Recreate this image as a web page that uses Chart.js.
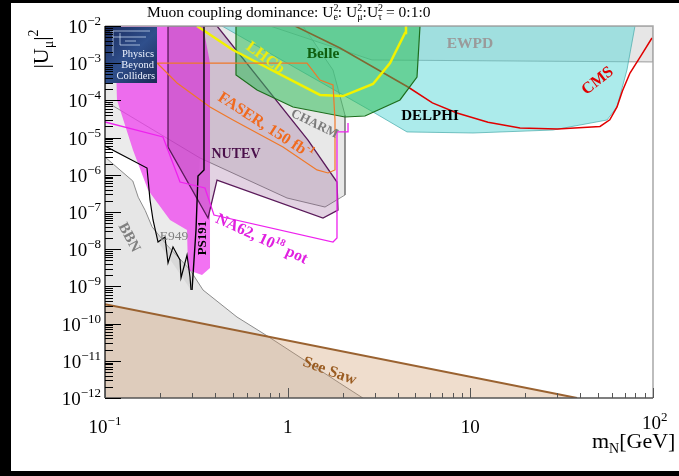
<!DOCTYPE html>
<html>
<head>
<meta charset="utf-8">
<script src="https://cdn.jsdelivr.net/npm/chart.js@4.4.1/dist/chart.umd.min.js"></script>
<style>
  html, body { margin: 0; padding: 0; background: #000; }
  canvas { display: block; }
</style>
</head>
<body>
<canvas id="plot" width="679" height="476"></canvas>
<script>
// Heavy neutral lepton mass m_N [GeV] vs. muon mixing |U_mu|^2
const massTicks = [0.1, 1, 10, 100];
const massTickLabels = [['10', '−1'], ['1', ''], ['10', ''], ['10', '2']];
const couplingTicks = [1e-2, 1e-3, 1e-4, 1e-5, 1e-6, 1e-7, 1e-8, 1e-9, 1e-10, 1e-11, 1e-12];
const couplingTickExps = ['−2', '−3', '−4', '−5', '−6', '−7', '−8', '−9', '−10', '−11', '−12'];

// [mass GeV, |U|^2]
const seeSawBound = [[0.1, 3.3e-10], [38.4, 1e-12]];
const bbnBound = [[0.1, 3.0e-6], [0.142, 6.8e-7], [0.152, 2.5e-7], [0.166, 1.1e-7], [0.181, 4.0e-8],
  [0.218, 1.3e-8], [0.292, 2.8e-9], [0.344, 8e-10], [0.528, 1.5e-10], [0.771, 4.7e-11],
  [1.93, 2.5e-12], [2.58, 1e-12]];
const charmRegion = [[0.1, 1e-2], [1.213, 1e-2], [1.771, 6.56e-4], [2.06, 4.05e-5], [2.06, 2.86e-7],
  [1.601, 1.36e-7], [0.9916, 2.38e-7], [0.3311, 2.83e-6], [0.1, 9.6e-5], [0.1, 1e-2]];
const e949Region = [[0.1, 5.94e-6], [0.1698, 1.52e-6], [0.1764, 2.1e-7], [0.1832, 6.1e-8], [0.1951, 1.56e-8],
  [0.2957, 8.0e-10], [0.3311, 2.83e-6], [0.1, 9.6e-5], [0.1, 5.94e-6]];
const ewpdRegion = [[0.8004, 1e-2], [2.895, 1.22e-3], [100, 1.08e-3], [100, 1e-2], [0.8004, 1e-2]];
const delphiRegion = [[0.437, 1e-2], [79.7, 1e-2], [72.0, 6.56e-4], [63.5, 6.65e-5], [56.0, 2.97e-5],
  [28.35, 1.6e-5], [10.34, 1.33e-5], [4.5, 1.42e-5], [2.932, 4.88e-5], [0.437, 1e-2]];
const belleRegion = [[0.5213, 1e-2], [0.5213, 4.82e-4], [0.6797, 1.9e-4], [1.0695, 6.65e-5],
  [2.06, 3.58e-5], [2.65, 3.81e-5], [4.121, 1.03e-4], [5.105, 4.26e-4], [5.302, 1e-2], [0.5213, 1e-2]];
const lhcbCurve = [[0.3189, 1e-2], [0.5021, 2.26e-3], [1.503, 1.4e-4], [2.009, 1.31e-4],
  [2.932, 2.76e-4], [3.634, 1.01e-3], [4.389, 6.5e-3], [4.444, 1e-2]];
const cmsCurve = [[1.0967, 1e-2], [1.934, 2.56e-3], [4.557, 2.29e-4], [6.2, 8.6e-5], [8.45, 4.58e-5],
  [12.5, 2.6e-5], [18.71, 1.81e-5], [30.0, 1.7e-5], [51.28, 2.0e-5], [58.0, 3.0e-5],
  [63.53, 6.65e-5], [68.0, 1.8e-4], [74.82, 5.45e-4], [86.0, 1.6e-3], [98.7, 4.76e-3]];
const faserCurve = [[0.1, 1.01e-3], [1.276, 1.01e-3], [1.503, 3.53e-4], [1.771, 2.6e-4], [1.816, 2.97e-5],
  [1.816, 1.35e-6], [1.663, 1.12e-6], [1.447, 1.35e-6], [0.9428, 5.6e-6], [0.5021, 2.97e-5],
  [0.3757, 6.65e-5], [0.2479, 2.94e-4], [0.1927, 1.01e-3]];
const magentaRegion = [[0.1134, 1e-2], [0.3439, 1e-2], [0.3757, 1.01e-3], [0.3757, 3.12e-9],
  [0.3396, 2.02e-9], [0.2848, 2.76e-9], [0.2812, 3.28e-8], [0.227, 6.1e-8], [0.172, 3.9e-7],
  [0.1423, 4.64e-6], [0.1163, 1.03e-4], [0.1134, 1e-2]];
const nutevRegion = [[0.2213, 1e-2], [0.4104, 1e-2], [1.292, 8.6e-6], [1.862, 6.4e-7], [1.886, 1.13e-7],
  [1.561, 6.9e-8], [0.4104, 7.2e-7], [0.3664, 6.9e-8], [0.2213, 5.6e-6], [0.2213, 1e-2]];
const ps191Curve = [[0.3483, 1e-2], [0.3483, 1.35e-6], [0.3229, 9.3e-7], [0.3149, 3.28e-8], [0.2995, 8.0e-10]];
const e949Curve = [[0.1, 5.94e-6], [0.1698, 1.52e-6], [0.1764, 2.1e-7], [0.1832, 6.1e-8], [0.1951, 1.56e-8],
  [0.213, 2.13e-8], [0.2213, 4.26e-9], [0.2357, 1.15e-8], [0.2574, 5.13e-9], [0.2607, 1.68e-9],
  [0.2812, 6.98e-9], [0.292, 1.79e-9], [0.2957, 8.0e-10]];
const na62Curve = [[0.1, 2.63e-5], [0.2077, 1.04e-5], [0.2574, 6.4e-7], [0.3526, 4.42e-7], [0.395, 8.3e-8],
  [1.771, 1.56e-8], [1.862, 2.0e-8], [1.862, 1.42e-5], [2.14, 1.42e-5], [2.14, 2.47e-5]];

const FONT = '"Liberation Serif", "Times New Roman", serif';
const pts = arr => arr.map(([x, y]) => ({ x, y }));

// painter's order: first entry is drawn at the bottom
const layers = [
  { data: bbnBound, fill: 'start', backgroundColor: '#e6e6e6', borderColor: '#8c8c8c', borderWidth: 1 },
  { data: e949Region, fill: 'shape', backgroundColor: 'rgba(190,190,190,0.3)', borderColor: 'rgba(0,0,0,0)', borderWidth: 0 },
  { data: charmRegion, fill: 'shape', backgroundColor: 'rgba(190,190,190,0.35)', borderColor: 'rgba(120,120,120,0.8)', borderWidth: 1 },
  { data: ewpdRegion, fill: 'shape', backgroundColor: 'rgba(200,200,200,0.45)', borderColor: 'rgba(120,120,120,0.7)', borderWidth: 1 },
  { data: seeSawBound, fill: 'start', backgroundColor: 'rgba(205,150,100,0.32)', borderColor: '#9a6230', borderWidth: 2 },
  { data: delphiRegion, fill: 'shape', backgroundColor: 'rgba(90,215,215,0.5)', borderColor: 'rgba(70,170,170,0.7)', borderWidth: 1 },
  { data: cmsCurve, fill: false, borderColor: '#e00000', borderWidth: 1.5 },
  { data: magentaRegion, fill: 'shape', backgroundColor: 'rgba(238,60,238,0.72)', borderColor: 'rgba(0,0,0,0)', borderWidth: 0 },
  { data: nutevRegion, fill: 'shape', backgroundColor: 'rgba(110,30,110,0.2)', borderColor: '#5a1a5a', borderWidth: 1.3 },
  { data: belleRegion, fill: 'shape', backgroundColor: 'rgba(50,190,90,0.55)', borderColor: '#1e6e1e', borderWidth: 1.2 },
  { data: lhcbCurve, fill: false, borderColor: '#f2f200', borderWidth: 2.5 },
  { data: faserCurve, fill: false, borderColor: '#f07828', borderWidth: 1.2 },
  { data: e949Curve, fill: false, borderColor: '#000', borderWidth: 1.2 },
  { data: ps191Curve, fill: false, borderColor: '#000', borderWidth: 1.4 },
  { data: na62Curve, fill: false, borderColor: '#ee22ee', borderWidth: 1.3 }
];
const datasets = layers.map((l, i) => Object.assign({}, l, {
  data: pts(l.data), showLine: true, pointRadius: 0, tension: 0, order: layers.length - i
}));

function drawRich(ctx, runs, x, y, o) {
  ctx.save();
  ctx.translate(x, y);
  if (o.angle) ctx.rotate(o.angle * Math.PI / 180);
  const w8 = o.bold ? 'bold ' : '';
  let w = 0;
  for (const r of runs) { ctx.font = w8 + r.s + 'px ' + FONT; if (!r.noAdv) w += ctx.measureText(r.t).width; }
  let cx = o.align === 'right' ? -w : o.align === 'left' ? 0 : -w / 2;
  const base = o.middle ? runs[0].s * 0.34 : 0;
  ctx.fillStyle = o.color || '#000';
  ctx.textBaseline = 'alphabetic';
  for (const r of runs) {
    ctx.font = w8 + r.s + 'px ' + FONT;
    ctx.fillText(r.t, cx, base + (r.dy || 0));
    if (!r.noAdv) cx += ctx.measureText(r.t).width;
  }
  ctx.restore();
}
const T = (t, s, dy, noAdv) => ({ t, s, dy, noAdv });

const decorations = {
  id: 'decorations',
  beforeDraw(chart) {
    const ctx = chart.ctx;
    ctx.save();
    ctx.fillStyle = '#000';
    ctx.fillRect(0, 0, chart.width, chart.height);
    ctx.fillStyle = '#fff';
    ctx.fillRect(11, 3, chart.width - 11, 468);
    ctx.restore();
  },
  afterDatasetsDraw(chart) {
    const ctx = chart.ctx;
    const xs = chart.scales.x, ys = chart.scales.y;
    const { left, right, top, bottom } = chart.chartArea;

    // Physics Beyond Colliders badge
    ctx.save();
    const g = ctx.createLinearGradient(105, 27, 157, 83);
    g.addColorStop(0, '#1a2b5e');
    g.addColorStop(0.5, '#2f4f8c');
    g.addColorStop(1, '#1b2a55');
    ctx.fillStyle = g;
    ctx.fillRect(left, 27, 52, 56);
    ctx.strokeStyle = 'rgba(220,235,255,0.85)';
    ctx.lineWidth = 0.8;
    ctx.beginPath();
    ctx.moveTo(110, 31); ctx.lineTo(150, 31);
    ctx.moveTo(113, 31); ctx.lineTo(113, 56);
    ctx.moveTo(113, 37); ctx.lineTo(146, 37);
    ctx.moveTo(120, 33); ctx.lineTo(120, 45); ctx.lineTo(140, 45);
    ctx.moveTo(125, 41); ctx.lineTo(136, 41);
    ctx.stroke();
    ctx.fillStyle = '#eef3ff';
    ctx.font = '10.5px ' + FONT;
    ctx.textAlign = 'right';
    ctx.fillText('Physics', 154, 57);
    ctx.fillText('Beyond', 154, 68);
    ctx.fillText('Colliders', 155, 79);
    ctx.restore();

    // frame
    ctx.save();
    ctx.lineWidth = 1.5;
    ctx.strokeStyle = '#a8a8a8';
    ctx.beginPath();
    ctx.moveTo(left, top); ctx.lineTo(right, top); ctx.lineTo(right, bottom);
    ctx.stroke();
    ctx.strokeStyle = '#555';
    ctx.beginPath();
    ctx.moveTo(left, bottom); ctx.lineTo(right, bottom);
    ctx.stroke();
    ctx.strokeStyle = '#000';
    ctx.lineWidth = 1.2;
    ctx.beginPath();
    ctx.moveTo(left, top); ctx.lineTo(left, bottom);
    ctx.stroke();

    // y ticks (major and minor), pointing into the plot
    ctx.lineWidth = 1;
    ctx.strokeStyle = '#000';
    ctx.beginPath();
    for (let e = -12; e <= -2; e++) {
      for (let m = 1; m <= 9; m++) {
        const v = m * Math.pow(10, e);
        if (v > 1.0001e-2) break;
        const py = Math.round(ys.getPixelForValue(v)) + 0.5;
        const len = m === 1 ? 16 : 8;
        ctx.moveTo(left, py); ctx.lineTo(left + len, py);
      }
    }
    ctx.stroke();
    // x ticks
    ctx.strokeStyle = '#555';
    ctx.beginPath();
    for (let e = -1; e <= 2; e++) {
      for (let m = 1; m <= 9; m++) {
        const v = m * Math.pow(10, e);
        if (v > 100.001) break;
        const px = Math.round(xs.getPixelForValue(v)) + 0.5;
        const len = m === 1 ? 10 : 5;
        ctx.moveTo(px, bottom); ctx.lineTo(px, bottom - len);
      }
    }
    ctx.stroke();
    ctx.restore();

    // tick labels
    couplingTicks.forEach((v, i) => {
      const py = ys.getPixelForValue(v);
      drawRich(ctx, [T('10', 19), T(couplingTickExps[i], 13, -8)], 101, py + 7, { align: 'right' });
    });
    massTicks.forEach((v, i) => {
      const px = xs.getPixelForValue(v);
      const [b, e] = massTickLabels[i];
      if (v === 100) {
        drawRich(ctx, [T(b, 19), T(e, 13, -8)], px - 11, 429, { align: 'left' });
      } else {
        drawRich(ctx, e ? [T(b, 19), T(e, 13, -8)] : [T(b, 19)], px, 433, {});
      }
    });

    // axis titles
    drawRich(ctx, [T('m', 22), T('N', 14, 5), T('[GeV]', 22)], 592, 448, { align: 'left' });
    drawRich(ctx, [T('|U', 22), T('μ', 14, 5), T('|', 22), T('2', 14, -10)], 48, 49, { angle: -90, align: 'center' });

    // title
    drawRich(ctx, [T('Muon coupling dominance: U', 15.5), T('2', 10, -6, true), T('e', 10, 3), T(': U', 15.5),
      T('2', 10, -6, true), T('μ', 10, 3), T(':U', 15.5), T('2', 10, -6, true), T('τ', 10, 3), T(' = 0:1:0', 15.5)],
      147, 17, { align: 'left' });

    // region labels
    const lab = (t, x, y, color, size, angle, bold = true) =>
      drawRich(ctx, [T(t, size)], x, y, { color, angle, bold, middle: true });
    lab('LHCb', 266, 57, '#ecec10', 16, 36);
    lab('Belle', 323, 53, '#0f5f0f', 15.5, 0);
    lab('EWPD', 470, 43, '#9a9a9a', 15.5, 0);
    lab('CMS', 597, 80, '#e00000', 16, -38);
    lab('DELPHI', 430, 115, '#000', 15, 0);
    drawRich(ctx, [T('FASER, 150 fb', 16), T('-1', 10, -7)], 266, 125, { color: '#f06a1e', angle: 33, bold: true, middle: true });
    lab('CHARM', 315, 123, '#7a7a7a', 13, 26);
    lab('NUTEV', 236, 153, '#4a0f4a', 14, 0);
    drawRich(ctx, [T('NA62, 10', 16), T('18', 10, -7), T(' pot', 16)], 262, 238, { color: '#e020e0', angle: 25, bold: true, middle: true });
    lab('PS191', 202, 238, '#000', 13, -90);
    lab('E949', 174, 235, '#808080', 13.5, 0, false);
    lab('BBN', 130, 237, '#808080', 15, 62);
    lab('See Saw', 330, 370, '#9a5c22', 16, 20);
  }
};

new Chart(document.getElementById('plot'), {
  type: 'scatter',
  data: { datasets },
  options: {
    responsive: false,
    animation: false,
    devicePixelRatio: 1,
    layout: { padding: { left: 105, right: 26, top: 26, bottom: 78 } },
    plugins: { legend: { display: false }, tooltip: { enabled: false } },
    scales: {
      x: { type: 'logarithmic', min: 0.1, max: 100, display: false },
      y: { type: 'logarithmic', min: 1e-12, max: 1e-2, display: false }
    }
  },
  plugins: [decorations]
});
</script>
</body>
</html>
